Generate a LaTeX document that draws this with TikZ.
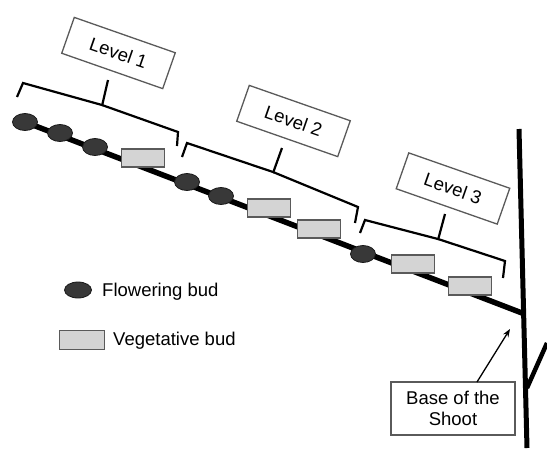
\documentclass[tikz,border=0pt]{standalone}
\usepackage{fontspec}
\setmainfont{Liberation Sans}
\usetikzlibrary{shapes.geometric,arrows.meta,calc}
\definecolor{budfill}{HTML}{383838}
\definecolor{vegfill}{HTML}{D4D4D4}
\definecolor{edgegray}{HTML}{5A5A5A}
\tikzset{
  flower/.style={ellipse,draw=black!90,line width=0.8pt,fill=budfill,minimum width=25pt,minimum height=17pt,inner sep=0pt},
  veg/.style={rectangle,draw=edgegray,line width=1.2pt,fill=vegfill,minimum width=43pt,minimum height=18pt,inner sep=0pt},
  levelbox/.style={rectangle,draw=edgegray,line width=1.3pt,fill=white,minimum width=107pt,minimum height=38pt,inner sep=0pt,rotate=-19.3,font=\fontsize{18.5}{22}\selectfont},
  brace/.style={line width=2.2pt,line join=miter,black},
  stem/.style={line width=5.5pt,black},
  legendtext/.style={anchor=west,inner sep=0pt,font=\fontsize{18.5}{22}\selectfont}
}
\begin{document}
\begin{tikzpicture}[x=1pt,y=-1pt]
\useasboundingbox (0,0) rectangle (547,448);
% stem and branches
\coordinate (vtop) at (519,129);
\coordinate (vbot) at (527,448);
\coordinate (bstart) at (25,122);
\coordinate (bjoin) at (522,313);
\coordinate (rb1) at (527,388);
\coordinate (rb2) at (547,343);
\draw[line width=5pt] (vtop) -- (vbot);
\draw[line width=4.5pt] (rb1) -- (rb2);
\draw[stem] (bstart) -- (bjoin);
% buds
\node[flower] (f1) at (25,122) {};
\node[flower] (f2) at (60,133) {};
\node[flower] (f3) at (95,147) {};
\node[veg] (v1) at (143,158) {};
\node[flower] (f4) at (187,182) {};
\node[flower] (f5) at (221,196) {};
\node[veg] (v2) at (269,208) {};
\node[veg] (v3) at (319,229) {};
\node[flower] (f6) at (363,254) {};
\node[veg] (v4) at (413,264) {};
\node[veg] (v5) at (470,286) {};
% brackets
\draw[brace] (17,97) -- (23,83) -- (102,105) -- (178,132) -- (177,146);
\draw[brace] (102,106) -- (108,80);
\draw[brace] (182,157) -- (187,143) -- (273,172) -- (358,207) -- (355,223);
\draw[brace] (273,173) -- (282,148);
\draw[brace] (360,233) -- (365,220) -- (438,239) -- (505,261) -- (503,278);
\draw[brace] (438,240) -- (445,214);
% level labels
\node[levelbox] (l1) at (118.5,53) {Level 1};
\node[levelbox] (l2) at (293.5,121) {Level 2};
\node[levelbox] (l3) at (453,188.5) {Level 3};
% legend
\node[flower,minimum width=27pt,minimum height=16pt] (lf) at (78,290) {};
\node[legendtext] (lft) at (102,292) {Flowering bud};
\node[veg,minimum width=45pt,minimum height=19pt] (lv) at (82,340) {};
\node[legendtext] (lvt) at (113,341) {Vegetative bud};
% base of the shoot
\node[rectangle,draw=edgegray,line width=1.2pt,fill=white,minimum width=124pt,minimum height=53pt,inner sep=0pt,align=center,font=\fontsize{18.5}{21}\selectfont] (base) at (453,408.5) {Base of the\\Shoot};
\coordinate (arrs) at (477,382);
\coordinate (tip) at (510,329);
\draw[line width=1.3pt,-{Stealth[length=8pt,width=6pt]}] (arrs) -- (tip);
\end{tikzpicture}
\end{document}
